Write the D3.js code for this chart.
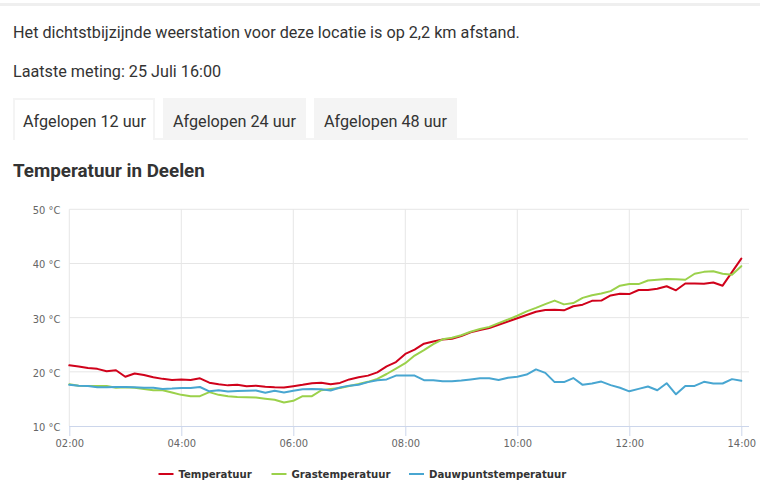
<!DOCTYPE html>
<html>
<head>
<meta charset="utf-8">
<script src="https://cdn.jsdelivr.net/npm/d3@7"></script>
<style>
  body { margin: 0; background: #fff; }
  svg { display: block; }
</style>
</head>
<body>
<svg id="page" width="760" height="502"></svg>
<script>
// readings every 10 minutes, 02:00 - 14:00 (25 juli)
const temperatuur = [
  21.2, 21.0, 20.7, 20.55, 20.1, 20.3, 19.1, 19.7, 19.4, 19.0, 18.7, 18.5,
  18.6, 18.5, 18.8, 18.0, 17.7, 17.5, 17.6, 17.35, 17.45, 17.25, 17.15, 17.1,
  17.35, 17.6, 17.9, 18.0, 17.7, 17.95, 18.6, 19.0, 19.3, 19.9, 21.0, 21.8,
  23.3, 24.1, 25.2, 25.6, 25.95, 26.1, 26.6, 27.3, 27.7, 28.1, 28.7, 29.3,
  29.9, 30.5, 31.1, 31.4, 31.45, 31.35, 32.1, 32.4, 33.1, 33.15, 34.1, 34.4,
  34.35, 35.1, 35.1, 35.35, 35.8, 35.05, 36.3, 36.3, 36.25, 36.5, 35.9, 38.4,
  40.9
]
const grastemperatuur = [
  17.7, 17.45, 17.4, 17.4, 17.4, 17.05, 17.15, 17.05, 16.85, 16.6, 16.6, 16.2,
  15.75, 15.5, 15.5, 16.25, 15.75, 15.5, 15.35, 15.3, 15.25, 15.05, 14.85, 14.35,
  14.65, 15.5, 15.5, 16.6, 16.85, 17.0, 17.4, 17.75, 18.15, 18.7, 19.6, 20.6,
  21.6, 23.0, 24.0, 25.1, 26.0, 26.3, 26.75, 27.4, 27.9, 28.3, 29.0, 29.65,
  30.35, 31.15, 31.8, 32.5, 33.15, 32.45, 32.7, 33.65, 34.15, 34.45, 34.9, 35.9,
  36.2, 36.2, 36.85, 37.0, 37.15, 37.1, 37.0, 38.1, 38.45, 38.55, 38.1, 37.9,
  39.5
]
const dauwpunt = [
  17.6, 17.45, 17.4, 17.15, 17.15, 17.2, 17.2, 17.15, 17.05, 17.05, 16.85, 16.9,
  17.0, 17.0, 17.2, 16.4, 16.6, 16.35, 16.45, 16.5, 16.55, 16.15, 16.5, 16.2,
  16.5, 16.8, 16.85, 16.8, 16.55, 17.1, 17.45, 17.6, 18.1, 18.45, 18.6, 19.3,
  19.3, 19.3, 18.45, 18.45, 18.25, 18.25, 18.4, 18.6, 18.8, 18.8, 18.5, 18.9,
  19.1, 19.5, 20.45, 19.8, 18.1, 18.1, 18.85, 17.6, 17.85, 18.2, 17.55, 17.05,
  16.4, 16.85, 17.3, 16.6, 17.9, 15.85, 17.4, 17.4, 18.15, 17.85, 17.85, 18.65,
  18.35
]
const yTicks = [10, 20, 30, 40, 50]
const xTickHours = [2, 4, 6, 8, 10, 12, 14]
const seriesNames = ['Temperatuur', 'Grastemperatuur', 'Dauwpuntstemperatuur']
const seriesColors = ['#d0021b', '#9bd14b', '#48a6d1']
const tabLabels = ['Afgelopen 12 uur', 'Afgelopen 24 uur', 'Afgelopen 48 uur']

const times = temperatuur.map((d, i) => new Date(2019, 6, 25, 2, i * 10))
const series = [temperatuur, grastemperatuur, dauwpunt]

const svg = d3.select('#page')
const font = 'Roboto, "Open Sans", sans-serif'
const chartFont = '"DejaVu Sans Condensed", "DejaVu Sans", sans-serif'

// page header
svg.append('rect')
    .attr('x', 0).attr('y', 3)
    .attr('width', 760).attr('height', 3)
    .attr('fill', '#efefef')

svg.append('text')
    .attr('x', 13).attr('y', 38)
    .attr('font-family', font).attr('font-size', 16.2)
    .attr('fill', '#333')
    .text('Het dichtstbijzijnde weerstation voor deze locatie is op 2,2 km afstand.')

svg.append('text')
    .attr('x', 13).attr('y', 77)
    .attr('font-family', font).attr('font-size', 16.2)
    .attr('fill', '#333')
    .text('Laatste meting: 25 Juli 16:00')

// tabs
const tabX = [13, 163, 314]
const tabW = [142, 143, 143]
svg.append('rect')
    .attr('x', 155).attr('y', 138)
    .attr('width', 593).attr('height', 2)
    .attr('fill', '#f4f4f4')

const tabs = svg.selectAll('g.tab')
    .data(tabLabels)
    .enter().append('g')
      .attr('class', 'tab')
      .attr('transform', (d, i) => `translate(${tabX[i]},98)`)

tabs.append('rect')
    .attr('width', (d, i) => tabW[i])
    .attr('height', (d, i) => i === 0 ? 42 : 40)
    .attr('fill', '#f4f4f4')

tabs.filter((d, i) => i === 0).append('rect')
    .attr('x', 2).attr('y', 2)
    .attr('width', tabW[0] - 4).attr('height', 40)
    .attr('fill', '#fff')

tabs.append('text')
    .attr('x', 10).attr('y', 28.5)
    .attr('font-family', font).attr('font-size', 16.2)
    .attr('fill', '#333')
    .text(d => d)

svg.append('text')
    .attr('x', 13).attr('y', 177)
    .attr('font-family', font).attr('font-size', 18.8)
    .attr('font-weight', 'bold')
    .attr('fill', '#333')
    .text('Temperatuur in Deelen')

// chart
const plot = { left: 69.3, right: 741.3, edge: 749, top: 209.3, bottom: 426 }

const xScale = d3.scaleTime()
    .domain([times[0], times[times.length - 1]])
    .range([plot.left, plot.right])

const yScale = d3.scaleLinear()
    .domain([10, 50])
    .range([plot.bottom, plot.top])

const xTicks = xTickHours.map(h => new Date(2019, 6, 25, h, 0))

// horizontal grid
svg.append('g')
    .selectAll('line')
    .data(yTicks.slice(1))
    .enter().append('line')
      .attr('x1', plot.left).attr('x2', plot.edge)
      .attr('y1', d => yScale(d)).attr('y2', d => yScale(d))
      .attr('stroke', '#e6e6e6')

// vertical grid
svg.append('g')
    .selectAll('line')
    .data(xTicks)
    .enter().append('line')
      .attr('x1', d => xScale(d)).attr('x2', d => xScale(d))
      .attr('y1', plot.top).attr('y2', plot.bottom)
      .attr('stroke', '#e6e6e6')

// x axis
const xAxis = svg.append('g')
    .attr('transform', `translate(0,${plot.bottom})`)
    .call(d3.axisBottom(xScale)
        .tickValues(xTicks)
        .tickFormat(d3.timeFormat('%H:%M'))
        .tickSize(10)
        .tickSizeOuter(0))
xAxis.select('.domain')
    .attr('d', `M${plot.left},0.5H${plot.edge}`)
    .attr('stroke', '#ccd6eb')
xAxis.selectAll('.tick line').attr('stroke', '#ccd6eb')
xAxis.selectAll('.tick text')
    .attr('y', 13).attr('dy', '0.71em')
    .attr('fill', '#666')
    .attr('font-family', chartFont).attr('font-size', 11)

// y axis labels
const yAxis = svg.append('g')
    .attr('transform', `translate(${plot.left},0)`)
    .call(d3.axisLeft(yScale)
        .tickValues(yTicks)
        .tickFormat(d => `${d} °C`)
        .tickSize(0)
        .tickPadding(9))
yAxis.select('.domain').remove()
yAxis.selectAll('.tick text')
    .attr('fill', '#666')
    .attr('dy', '0.4em')
    .attr('font-family', chartFont).attr('font-size', 11)

// lines
const line = d3.line()
    .x((d, i) => xScale(times[i]))
    .y(d => yScale(d))

svg.append('g')
    .selectAll('path')
    .data(series)
    .enter().append('path')
      .attr('d', line)
      .attr('fill', 'none')
      .attr('stroke', (d, i) => seriesColors[i])
      .attr('stroke-width', 2)
      .attr('stroke-linejoin', 'round')
      .attr('stroke-linecap', 'round')

// legend
const legendX = [158.5, 271.5, 409]
const legend = svg.append('g')
    .selectAll('g')
    .data(seriesNames)
    .enter().append('g')
      .attr('transform', (d, i) => `translate(${legendX[i]},474)`)

legend.append('line')
    .attr('x1', 0).attr('x2', 15)
    .attr('stroke', (d, i) => seriesColors[i])
    .attr('stroke-width', 2)

legend.append('text')
    .attr('x', 20).attr('y', 4.3)
    .attr('font-family', chartFont).attr('font-size', 11.3)
    .attr('font-weight', 'bold')
    .attr('fill', '#333')
    .text(d => d)
</script>
</body>
</html>
